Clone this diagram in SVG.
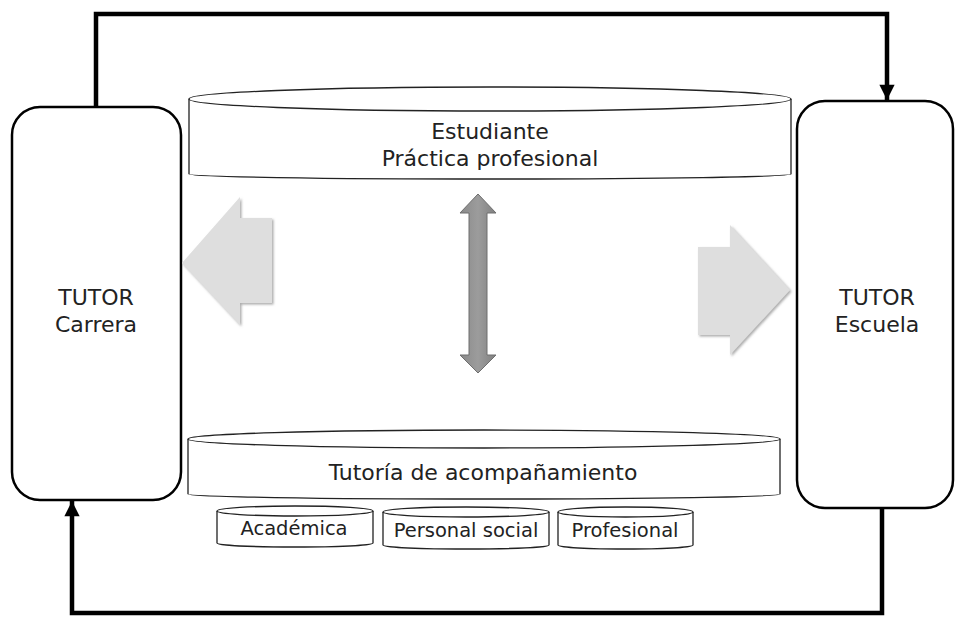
<svg xmlns="http://www.w3.org/2000/svg" width="955" height="617" viewBox="0 0 955 617">
<defs>
<style>
.box{fill:#fff;stroke:#000;stroke-width:2.5}
.cyl{fill:#fff;stroke:#222;stroke-width:1.3}
.t{font-family:"DejaVu Sans",Verdana,sans-serif;fill:#222;text-anchor:middle}
.m{font-size:22px}
.s{font-size:19.5px}
.conn{fill:none;stroke:#000;stroke-width:4.5}
.ga{fill:#dedede;stroke:none}
</style>
<marker id="ah" viewBox="0 0 10 10" refX="10" refY="5" markerWidth="3.6" markerHeight="3.4" markerUnits="strokeWidth" orient="auto">
<path d="M0,0 L10,5 L0,10 Z" fill="#000"/>
</marker>
<linearGradient id="dg" x1="0" y1="0" x2="1" y2="0">
<stop offset="0" stop-color="#8a8a8a"/>
<stop offset="0.5" stop-color="#9c9c9c"/>
<stop offset="1" stop-color="#808080"/>
</linearGradient>
<filter id="sh" x="-20%" y="-20%" width="140%" height="140%">
<feDropShadow dx="1.5" dy="1.5" stdDeviation="1.2" flood-color="#888" flood-opacity="0.7"/>
</filter>
</defs>
<g id="connectors">
<path class="conn" d="M96,107 V14 H887 V100" marker-end="url(#ah)"/>
<path class="conn" d="M882,508 V613 H72 V501" marker-end="url(#ah)"/>
</g>
<g id="tutor-carrera">
<rect class="box" x="12" y="107" width="169" height="393" rx="28"/>
<text class="t m" x="96" y="305">TUTOR</text>
<text class="t m" x="96" y="332">Carrera</text>
</g>
<g id="tutor-escuela">
<rect class="box" x="797" y="101" width="156" height="407" rx="28"/>
<text class="t m" x="877" y="305">TUTOR</text>
<text class="t m" x="877" y="332">Escuela</text>
</g>
<g id="estudiante">
<path class="cyl" d="M189,99 V174 A301,5 0 0 0 791,174 V99"/>
<ellipse class="cyl" cx="490" cy="99" rx="301" ry="12"/>
<text class="t m" x="490" y="139">Estudiante</text>
<text class="t m" x="490" y="166">Práctica profesional</text>
</g>
<g id="tutoria">
<path class="cyl" d="M188,439 V494 A296,5 0 0 0 780,494 V439"/>
<ellipse class="cyl" cx="484" cy="439" rx="296" ry="9"/>
<text class="t m" x="483" y="480">Tutoría de acompañamiento</text>
</g>
<g id="academica">
<path class="cyl" d="M217,511 V543 A78,4 0 0 0 373,543 V511"/>
<ellipse class="cyl" cx="295" cy="511" rx="78" ry="5"/>
<text class="t s" x="294" y="535">Académica</text>
</g>
<g id="personal-social">
<path class="cyl" d="M383,512 V545 A83,4 0 0 0 549,545 V512"/>
<ellipse class="cyl" cx="466" cy="512" rx="83" ry="5"/>
<text class="t s" x="466" y="537">Personal social</text>
</g>
<g id="profesional">
<path class="cyl" d="M558,512 V545 A67.5,4 0 0 0 693,545 V512"/>
<ellipse class="cyl" cx="625.5" cy="512" rx="67.5" ry="5"/>
<text class="t s" x="625" y="537">Profesional</text>
</g>
<g id="arrow-left">
<path class="ga" filter="url(#sh)" d="M182,263 L240,197 V218 H272 V303 H240 V325 Z"/>
</g>
<g id="arrow-right">
<path class="ga" filter="url(#sh)" d="M698,247 H730 V225 L790,290 L730,355 V335 H698 Z"/>
</g>
<g id="arrow-double">
<path d="M478,194 L496,213 H487 V355 H496 L478,373 L460,355 H469 V213 H460 Z" fill="url(#dg)" stroke="#6e6e6e" stroke-width="1"/>
</g>
</svg>
